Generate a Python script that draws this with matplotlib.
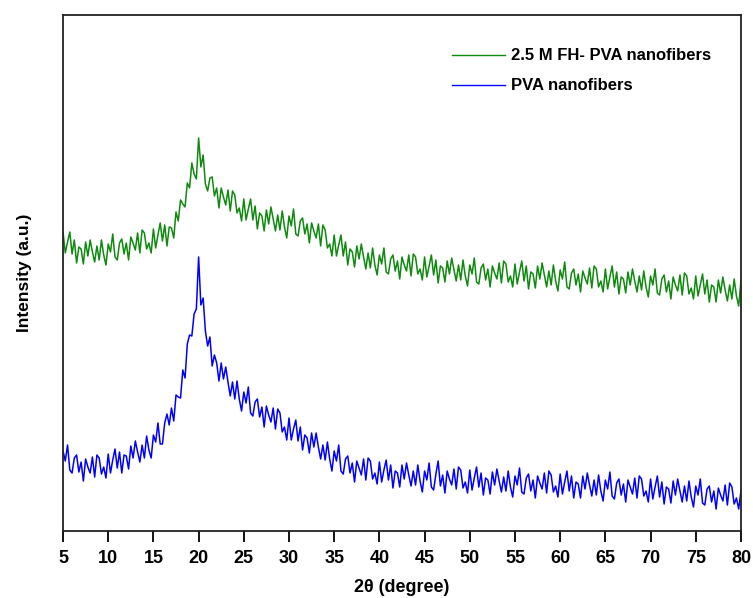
import numpy as np
import matplotlib
matplotlib.use('Agg')
import matplotlib.pyplot as plt

plt.rcParams['font.family'] = ['Liberation Sans', 'DejaVu Sans']
plt.rcParams['font.weight'] = 'bold'

# 2-theta grid of the scan (0.25 degree step, 5..80)
two_theta = np.linspace(5, 80, 301)

# intensity (arbitrary units), 4 points per degree
fh_pva = [
    299, 278, 289, 299, 277, 291, 268, 284, 282, 267, 289, 275,
    291, 279, 269, 285, 271, 291, 276, 266, 287, 279, 297, 274,
    271, 288, 292, 277, 288, 271, 294, 288, 281, 298, 278, 301,
    298, 282, 288, 278, 302, 283, 296, 308, 290, 306, 285, 304,
    303, 293, 319, 310, 331, 327, 324, 348, 343, 368, 357, 352,
    393, 364, 376, 347, 340, 353, 354, 335, 343, 323, 343, 334,
    326, 341, 320, 340, 336, 318, 323, 310, 332, 311, 322, 332,
    311, 325, 302, 318, 315, 300, 321, 307, 324, 312, 300, 316,
    301, 320, 304, 293, 315, 305, 322, 297, 295, 310, 313, 297,
    307, 288, 308, 300, 293, 307, 285, 306, 301, 283, 287, 275,
    296, 275, 286, 296, 275, 289, 266, 282, 279, 264, 285, 272,
    287, 274, 262, 278, 263, 283, 266, 256, 276, 267, 283, 259,
    257, 272, 276, 260, 270, 252, 274, 266, 260, 276, 255, 277,
    274, 257, 262, 251, 274, 254, 265, 276, 256, 271, 248, 265,
    263, 249, 270, 257, 273, 261, 250, 266, 251, 271, 255, 245,
    266, 257, 273, 249, 247, 263, 267, 251, 262, 244, 265, 258,
    252, 268, 248, 270, 267, 249, 255, 244, 267, 247, 259, 270,
    250, 265, 242, 259, 257, 243, 265, 252, 268, 256, 244, 260,
    246, 266, 250, 240, 261, 252, 269, 244, 242, 258, 262, 246,
    257, 239, 260, 253, 247, 263, 243, 265, 262, 244, 250, 239,
    262, 242, 254, 265, 244, 259, 237, 254, 252, 238, 259, 246,
    262, 250, 239, 255, 241, 260, 244, 234, 255, 246, 262, 238,
    236, 252, 256, 239, 250, 232, 254, 246, 240, 256, 236, 258,
    255, 237, 243, 232, 255, 235, 246, 257, 237, 251, 229, 246,
    244, 229, 251, 238, 254, 241, 230, 246, 232, 252, 235, 225,
    250,
]

pva = [
    80, 70, 86, 61, 58, 73, 76, 59, 69, 50, 72, 64,
    58, 74, 54, 76, 73, 57, 64, 53, 77, 58, 71, 82,
    63, 79, 58, 76, 75, 62, 85, 73, 90, 79, 69, 86,
    73, 95, 81, 73, 96, 89, 108, 87, 87, 108, 117, 106,
    123, 110, 136, 134, 133, 161, 153, 187, 196, 195, 217, 222,
    274, 226, 233, 200, 185, 194, 165, 176, 168, 150, 168, 152,
    164, 149, 135, 149, 132, 150, 132, 120, 139, 128, 144, 118,
    115, 129, 132, 114, 124, 104, 125, 116, 109, 123, 102, 122,
    118, 99, 104, 91, 113, 91, 102, 111, 90, 104, 81, 96,
    93, 78, 98, 84, 98, 84, 72, 86, 71, 89, 72, 60,
    80, 70, 86, 60, 57, 72, 75, 58, 68, 49, 70, 63,
    56, 72, 51, 73, 70, 52, 58, 47, 69, 49, 61, 71,
    51, 66, 43, 60, 58, 44, 66, 52, 68, 56, 45, 60,
    46, 66, 50, 39, 60, 51, 68, 44, 41, 57, 70, 45,
    56, 38, 60, 52, 46, 62, 42, 64, 61, 43, 49, 38,
    61, 41, 53, 64, 44, 58, 36, 53, 51, 37, 59, 46,
    62, 50, 39, 54, 40, 60, 44, 34, 55, 46, 63, 39,
    37, 53, 57, 40, 51, 33, 55, 48, 42, 58, 38, 60,
    56, 39, 45, 34, 57, 37, 49, 60, 40, 55, 33, 49,
    47, 33, 55, 42, 58, 46, 35, 51, 36, 56, 40, 30,
    51, 42, 59, 35, 32, 48, 52, 36, 47, 29, 51, 44,
    37, 53, 33, 55, 52, 35, 40, 29, 52, 32, 44, 55,
    34, 49, 27, 44, 42, 28, 50, 36, 52, 40, 29, 45,
    30, 50, 34, 24, 45, 36, 52, 28, 26, 42, 45, 29,
    40, 22, 43, 36, 30, 46, 26, 48, 44, 27, 33, 22,
    40,
]

labels = ['2.5 M FH- PVA nanofibers', 'PVA nanofibers']
colors = ['#0f8a0f', '#0000ff']
xticks = list(range(5, 81, 5))

fig = plt.figure(figsize=(7.53, 5.98), dpi=100)
ax = fig.add_axes([0.0837, 0.112, 0.9003, 0.863])

ax.plot(two_theta, fh_pva, color=colors[0], lw=1.1, label=labels[0])
ax.plot(two_theta, pva, color=colors[1], lw=1.1, label=labels[1])

ax.set_xlim(5, 80)
ax.set_ylim(0, 516)
ax.set_xticks(xticks)
ax.set_yticks([])
ax.tick_params(axis='x', direction='out', length=8, width=1.3, pad=6,
               labelsize=13)
for lab in ax.get_xticklabels():
    lab.set_fontweight('bold')
for sp in ax.spines.values():
    sp.set_linewidth(1.3)
    sp.set_color('#222222')

ax.set_xlabel('2θ (degree)', fontsize=13, fontweight='bold', labelpad=8)
ax.set_ylabel('Intensity (a.u.)', fontsize=12.5, fontweight='bold', labelpad=22)

leg = ax.legend(loc='upper left', bbox_to_anchor=(0.574, 0.935),
                frameon=False, fontsize=12, handlelength=3.2,
                handletextpad=0.35, labelspacing=0.9, borderpad=0,
                borderaxespad=0)
for t in leg.get_texts():
    t.set_fontweight('bold')
for h in leg.get_lines():
    h.set_linewidth(1.0)

fig.savefig('out.png', dpi=100)
